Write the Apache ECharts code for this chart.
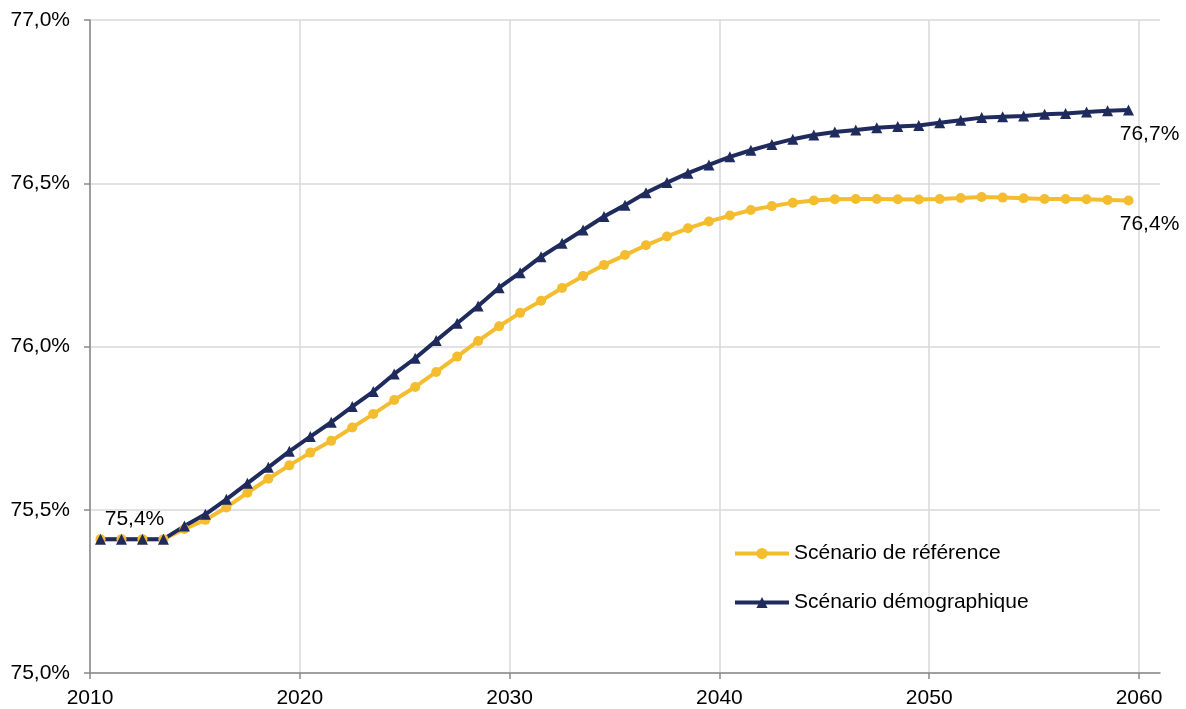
<!DOCTYPE html>
<html lang="fr">
<head>
    <meta charset="UTF-8">
    <title>Scénarios</title>
    <script src="https://cdn.jsdelivr.net/npm/echarts@6.0.0/dist/echarts.min.js"></script>
    <style>
        body { margin: 0; background: #fff; }
    </style>
</head>
<body>
    <div id="chart" style="width: 1186px; height: 709px;"></div>
    <script type="text/javascript">
        const years = [
            2010, 2011, 2012, 2013, 2014, 2015, 2016, 2017, 2018, 2019,
            2020, 2021, 2022, 2023, 2024, 2025, 2026, 2027, 2028, 2029,
            2030, 2031, 2032, 2033, 2034, 2035, 2036, 2037, 2038, 2039,
            2040, 2041, 2042, 2043, 2044, 2045, 2046, 2047, 2048, 2049,
            2050, 2051, 2052, 2053, 2054, 2055, 2056, 2057, 2058, 2059
        ];
        const reference = [
            75.410, 75.410, 75.410, 75.410, 75.441, 75.469, 75.507, 75.552, 75.595, 75.636,
            75.675, 75.711, 75.752, 75.793, 75.836, 75.876, 75.922, 75.969, 76.017, 76.062,
            76.103, 76.140, 76.179, 76.216, 76.250, 76.280, 76.310, 76.337, 76.362, 76.383,
            76.401, 76.418, 76.430, 76.440, 76.447, 76.451, 76.452, 76.452, 76.451, 76.450,
            76.452, 76.455, 76.458, 76.456, 76.454, 76.452, 76.452, 76.451, 76.449, 76.447
        ];
        const demographique = [
            75.410, 75.410, 75.410, 75.410, 75.450, 75.486, 75.532, 75.581, 75.630, 75.679,
            75.724, 75.768, 75.816, 75.862, 75.916, 75.964, 76.018, 76.071, 76.124, 76.180,
            76.226, 76.275, 76.316, 76.357, 76.398, 76.433, 76.471, 76.502, 76.531, 76.556,
            76.581, 76.601, 76.619, 76.635, 76.648, 76.657, 76.663, 76.670, 76.674, 76.677,
            76.685, 76.693, 76.701, 76.704, 76.706, 76.711, 76.714, 76.718, 76.722, 76.724
        ];
        const xTicks = [2010, 2020, 2030, 2040, 2050, 2060];
        const seriesNames = ['Scénario de référence', 'Scénario démographique'];

        const pct = v => v.toFixed(1).replace('.', ',') + '%';
        const font = 'Liberation Sans, Arial, sans-serif';
        const fs = 21;

        // points sit mid-year
        function build(values, labelled) {
            return values.map((v, i) => {
                const item = { value: [years[i] + 0.5, v] };
                if (labelled[i]) item.label = labelled[i];
                return item;
            });
        }

        const last = years.length - 1;
        const endLabel = {
            show: true, position: 'bottom', offset: [21, 3],
            formatter: p => pct(p.value[1])
        };

        let chart = echarts.init(document.getElementById('chart'), null, { renderer: 'canvas' });

        chart.setOption({
            animation: false,
            textStyle: { fontFamily: font },
            grid: { left: 90, right: 26, top: 20, bottom: 36 },
            legend: {
                orient: 'vertical',
                left: 733, top: 543, padding: 0,
                itemWidth: 54, itemHeight: 14, itemGap: 28,
                lineStyle: { width: 4 },
                textStyle: { fontSize: fs, color: '#000', fontFamily: font },
                data: seriesNames
            },
            xAxis: {
                type: 'value',
                min: 2010, max: 2061,
                axisLine: { lineStyle: { color: '#898989', width: 1.5 } },
                axisTick: { length: 6, customValues: xTicks, lineStyle: { color: '#898989', width: 1.5 } },
                axisLabel: {
                    customValues: xTicks, margin: 15,
                    fontSize: fs, color: '#000', fontFamily: font,
                    formatter: v => String(v)
                },
                splitLine: { lineStyle: { color: '#d9d9d9', width: 1.5 } }
            },
            yAxis: {
                type: 'value',
                min: 75, max: 77, interval: 0.5,
                axisLine: { show: true, lineStyle: { color: '#898989', width: 1.5 } },
                axisTick: { show: true, length: 6, lineStyle: { color: '#898989', width: 1.5 } },
                axisLabel: {
                    margin: 20, fontSize: fs, color: '#000', fontFamily: font,
                    formatter: pct
                },
                splitLine: { lineStyle: { color: '#d9d9d9', width: 1.5 } }
            },
            series: [
                {
                    name: seriesNames[0],
                    type: 'line',
                    color: '#F4BD2F',
                    symbol: 'circle', symbolSize: 10,
                    lineStyle: { width: 4 },
                    label: { fontSize: fs, color: '#000', fontFamily: font },
                    data: build(reference, {
                        0: { show: true, position: 'top', offset: [34, 1], formatter: p => pct(p.value[1]) },
                        [last]: endLabel
                    })
                },
                {
                    name: seriesNames[1],
                    type: 'line',
                    color: '#1E2B5C',
                    symbol: 'triangle', symbolSize: 11,
                    lineStyle: { width: 4 },
                    label: { fontSize: fs, color: '#000', fontFamily: font },
                    data: build(demographique, { [last]: endLabel })
                }
            ]
        });
    </script>
</body>
</html>
